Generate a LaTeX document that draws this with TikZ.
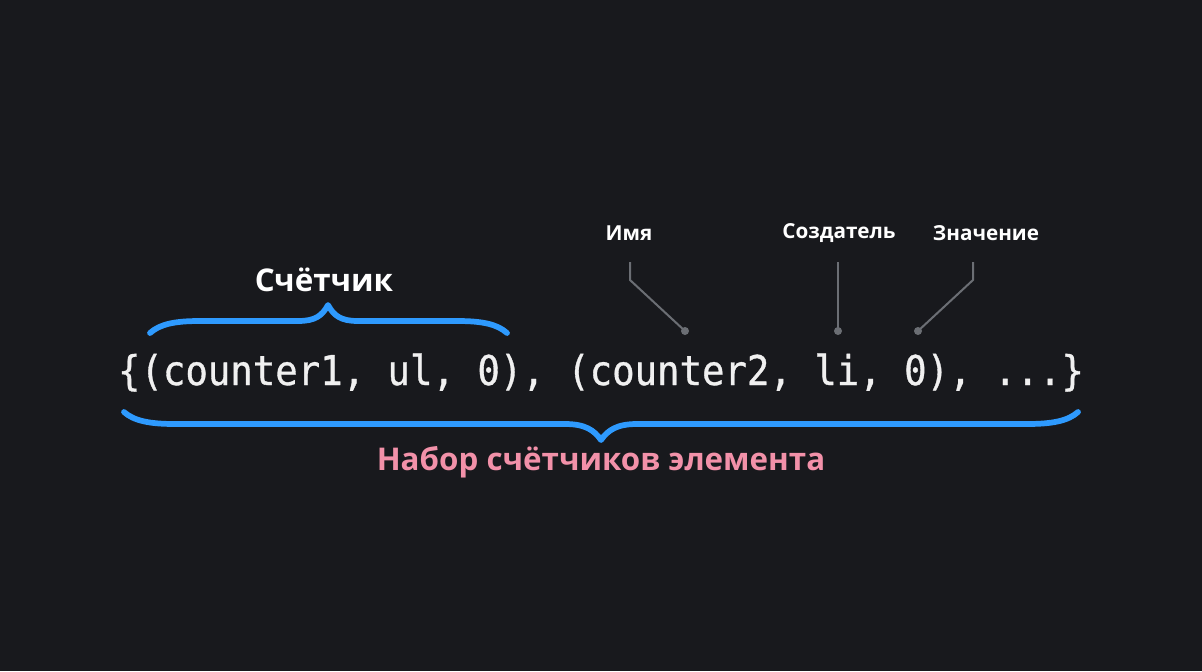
\documentclass[tikz,border=0pt]{standalone}
\usepackage{fontspec}
\setmainfont{Open Sans}
\newfontfamily\codefont[FakeStretch=0.91, FakeBold=0.8]{DejaVu Sans Mono}
\usetikzlibrary{positioning, calc}
\definecolor{bgDark}{RGB}{24,25,29}
\definecolor{braceBlue}{RGB}{46,154,254}
\definecolor{setPink}{RGB}{242,145,169}
\definecolor{leadGray}{RGB}{107,110,116}
\definecolor{codeWhite}{RGB}{240,240,240}

\begin{document}
\begin{tikzpicture}[x=0.75pt, y=-0.75pt,
    code/.style={font=\codefont\fontsize{30.75}{36}\selectfont, text=codeWhite, inner sep=0pt},
    tag/.style={font=\bfseries\fontsize{15.5}{18}\selectfont, text=white, inner sep=0pt},
    brace/.style={draw=braceBlue, line width=4.3pt, line cap=round, line join=round},
    lead/.style={draw=leadGray, line width=1.5pt},
    pin/.style={circle, fill=leadGray, inner sep=0pt, minimum size=6pt}]
% background
\fill[bgDark] (0,0) rectangle (1202,671);
\useasboundingbox (0,0) rectangle (1202,671);

% the set
\node[code, anchor=base] (set) at (601,385)
   {\{(counter1, ul, 0), (counter2, li, 0), ...\}};

% top brace over one counter
\draw[brace] (150,333) .. controls (160,324) and (175,321) .. (200,321)
   -- (298,321) .. controls (315,321) and (322,316) .. (328,305)
   .. controls (334,316) and (341,321) .. (358,321)
   -- (457,321) .. controls (482,321) and (497,324) .. (507,333);
\node[font=\bfseries\fontsize{23.5}{28}\selectfont, text=white] (cnt) at (324,280) {Счётчик};

% bottom brace over the whole set
\draw[brace] (124,412) .. controls (134,421) and (150,424) .. (175,424)
   -- (565,424) .. controls (585,424) and (594,430) .. (601,440)
   .. controls (608,430) and (617,424) .. (637,424)
   -- (1027,424) .. controls (1052,424) and (1068,421) .. (1078,412);
\node[font=\bfseries\fontsize{23.5}{28}\selectfont, text=setPink] (all) at (601,462)
   {Набор счётчиков элемента};

% field tags
\node[tag] (name) at (629,233) {Имя};
\node[tag] (owner) at (839,233) {Создатель};
\node[tag] (value) at (986,233) {Значение};

\node[pin] (pname) at (685,331) {};
\node[pin] (powner) at (838,331) {};
\node[pin] (pvalue) at (918,331) {};

\coordinate (kname) at (630,280);
\coordinate (kvalue) at (973,280);

\draw[lead] (630,262) -- (kname) -- (pname.center);
\draw[lead] (838,262) -- (powner.center);
\draw[lead] (973,262) -- (kvalue) -- (pvalue.center);

\end{tikzpicture}
\end{document}
